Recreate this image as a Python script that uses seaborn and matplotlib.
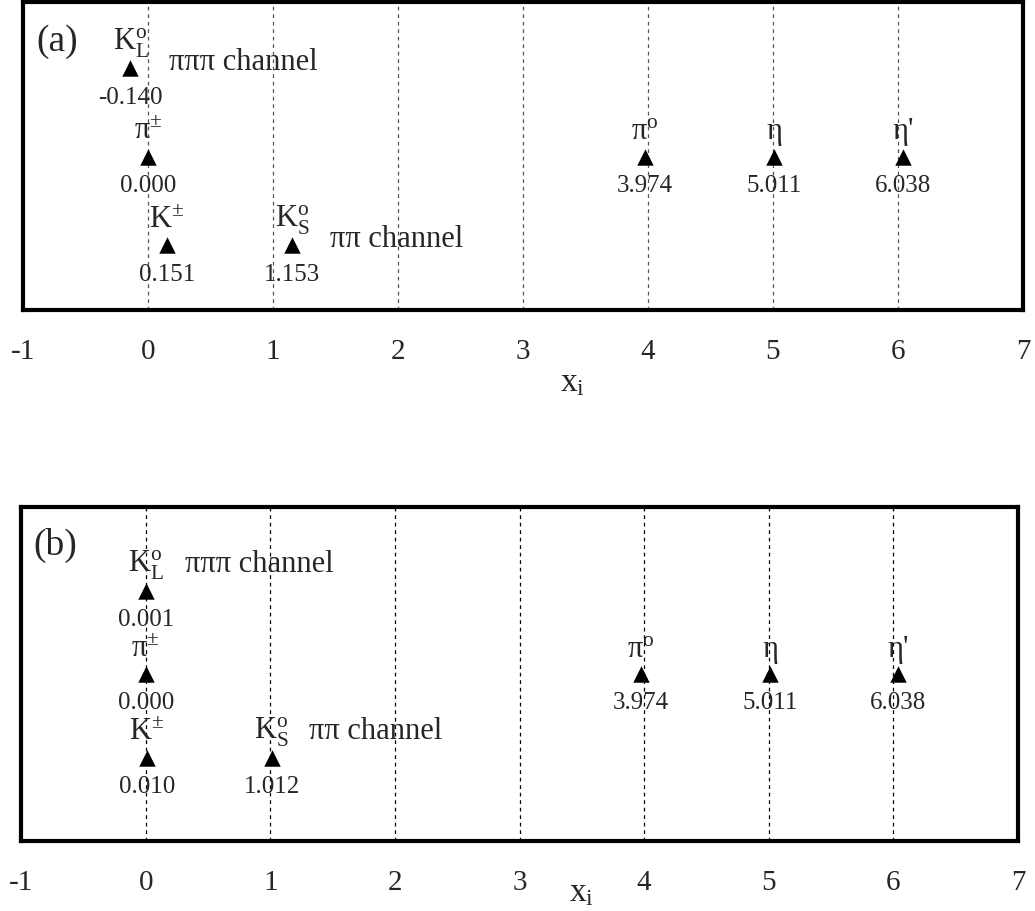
import matplotlib
matplotlib.use("Agg")
import matplotlib.pyplot as plt
import seaborn as sns
import pandas as pd

sns.set_style("white")
plt.rcParams['font.family'] = ['Liberation Serif', 'DejaVu Serif']
plt.rcParams['mathtext.fontset'] = 'custom'
plt.rcParams['mathtext.rm'] = 'Liberation Serif'
plt.rcParams['mathtext.it'] = 'Liberation Serif:italic'

# particle names, rows and x_i values
names = ["K$^{\\rm o}_{\\rm L}$", "π$^{\\pm}$", "K$^{\\pm}$", "K$^{\\rm o}_{\\rm S}$",
         "π$^{\\rm o}$", "η", "η'"]
rows = [3, 2, 1, 1, 2, 2, 2]
x_a = [-0.140, 0.000, 0.151, 1.153, 3.974, 5.011, 6.038]
x_b = [0.001, 0.000, 0.010, 1.012, 3.974, 5.011, 6.038]
ticks = [-1, 0, 1, 2, 3, 4, 5, 6, 7]
grid_x = [0, 1, 2, 3, 4, 5, 6]

fig = plt.figure(figsize=(10.35, 9.11), dpi=100)
ax_a = fig.add_axes([0.0222, 0.6597, 0.9662, 0.3381])
ax_b = fig.add_axes([0.0203, 0.0768, 0.9633, 0.3666])


def draw(ax, xs, tag, ylim, grid_color, chan_dy, lab_pos):
    df = pd.DataFrame({"x": xs, "row": rows, "name": names})
    for g in grid_x:
        ax.axvline(g, color=grid_color, lw=0.9, ls=(0, (3, 3)), zorder=0)
    sns.scatterplot(data=df, x="x", y="row", marker="^", s=140, color="black",
                    edgecolor="black", linewidth=0, ax=ax, zorder=3)
    for _, r in df.iterrows():
        ax.annotate(r["name"], (r["x"], r["row"]), xytext=(0, 18), textcoords="offset points",
                    ha="center", va="center", fontsize=22)
        ax.annotate(f"{r['x']:.3f}", (r["x"], r["row"]), xytext=(0, -21), textcoords="offset points",
                    ha="center", va="center", fontsize=18)
    # decay channel notes next to the neutral kaons
    ax.annotate("πππ channel", (df.x[0], df.row[0]), xytext=(28, chan_dy), textcoords="offset points",
                ha="left", va="center", fontsize=22)
    ax.annotate("ππ channel", (df.x[3], df.row[3]), xytext=(27, chan_dy), textcoords="offset points",
                ha="left", va="center", fontsize=22)
    ax.text(0.034, lab_pos, tag, transform=ax.transAxes, ha="center", va="center", fontsize=27)
    ax.set_xlim(-1, 7)
    ax.set_ylim(*ylim)
    ax.set_xticks(ticks)
    ax.set_xticklabels([str(t) for t in ticks])
    ax.set_yticks([])
    ax.set_ylabel("")
    ax.tick_params(axis="x", length=0, pad=21, labelsize=21)
    for sp in ax.spines.values():
        sp.set_visible(True)
        sp.set_linewidth(3)
        sp.set_color("black")
    ax.set_xlabel("x$_{\\rm i}$", fontsize=24, va="center")


draw(ax_a, x_a, "(a)", (0.27, 3.75), "#555555", 4, 0.87)
ax_a.xaxis.set_label_coords(0.55, -0.237)
draw(ax_b, x_b, "(b)", (0, 4), "black", 19, 0.886)
ax_b.xaxis.set_label_coords(0.5625, -0.156)

fig.savefig("out.png", dpi=100)
